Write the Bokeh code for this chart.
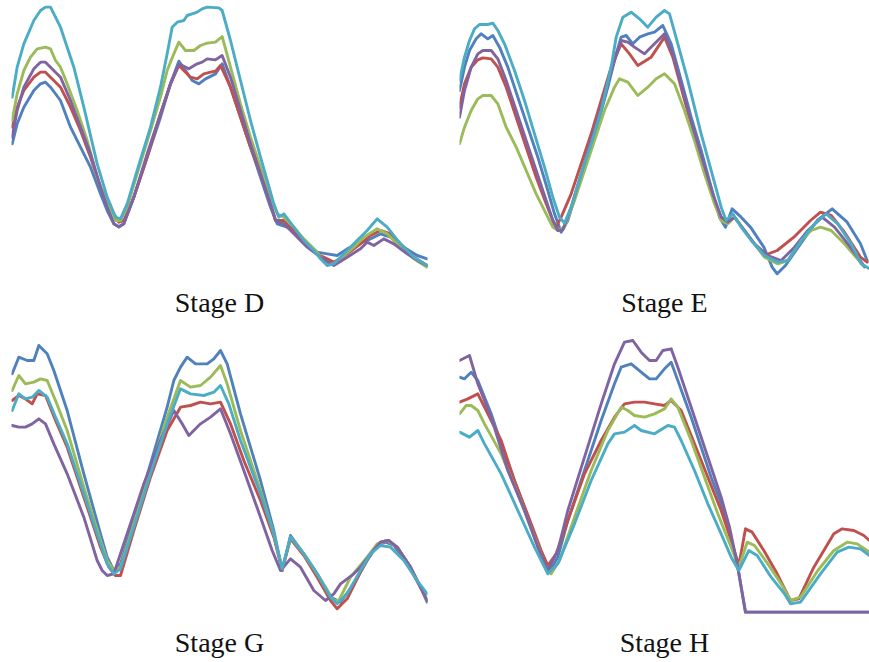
from bokeh.plotting import figure
from bokeh.layouts import column, row
from bokeh.models import Range1d
from bokeh.embed import file_html
from bokeh.resources import INLINE

# ---------------- data (position, value) ----------------
D_CYAN = [(3.5,61),(5,70),(7,77),(10,84),(12,87),(13.5,88),(15,88),(16.5,85),(18,82),(20,76),(22,70),(25,58),(29,41),(32,31),(34.5,25),(36,24.5),(38,29),(41,39),(45,52),(48,64),(50,74),(51.5,82),(53,83.5),(55,84),(56,85.5),(57.5,86),(59,86.5),(60.5,87.5),(62,88),(65.5,87.8),(66.5,87),(69,78),(72,66),(75,54),(78,43),(80,36),(82,29),(83.5,25),(85,26),(88,22),(91,18),(94,15),(96,12.5),(98,10.5),(100,11),(102,13),(106,17),(110,21),(113,24.5),(116,22),(120,17),(124,13),(128,10.5)]
D_GREEN = [(3.5,54),(5,62),(7,69),(9,73),(11,75.5),(13.5,76),(15,75.5),(16.5,72),(18,70),(20,65),(23,57),(26,48),(29,37),(32,29),(34.5,24),(36,24),(38,28),(41,38),(45,51),(48,61),(50,69),(52,74),(53.5,77.5),(55.5,75),(58,75),(60,76.5),(62,77.2),(64.5,77.5),(66.5,79.2),(69,70),(72,59),(75,49),(78,40),(81,31),(83,26),(85,25),(88,22),(91,18.5),(94,15.5),(98,11),(100,11),(103,13.5),(106,16),(109,19),(113,21.5),(116,20),(120,16),(124,12.5),(128,10)]
D_PURPLE = [(3.5,49),(5,57),(7,64),(10,69.5),(12,71.5),(13.5,71.5),(15,70),(18,67),(21,60),(24,52),(27,44),(30,34),(32,28),(34,23),(35.5,22),(37,23),(40,31),(44,44),(48,56),(51,65),(53.5,71),(56.5,69.5),(59,71),(60.5,71.5),(62,72.5),(64.5,72.2),(66.5,73.5),(69,67),(72,57),(75,47),(78,38),(81,29),(82.5,24),(85,23),(88,20),(92,16),(96,13),(100,10.5),(104,13),(108,15.5),(110,17.5),(112,16.5),(115,18.5),(118,17),(122,14),(126,11.5),(128,10.5)]
D_RED = [(3.5,52),(5,58),(7,63),(10,67),(12,68.5),(13.5,68.5),(15,67),(18,64),(21,58),(24,51),(27,43),(30,34),(32,30),(34,26),(35.5,23.5),(37,24),(40,31),(44,43),(48,56),(51,65),(53.5,70.5),(55,69),(57,67),(59,66.5),(61,68),(63,68.5),(64.5,68.8),(66,70.5),(69,64),(72,55),(75,46),(78,38),(81,29),(82.5,24),(85,24),(88,21),(92,17),(96,13.5),(100,11.5),(104,14),(108,17),(111,19.5),(114,21),(117,20),(120,17),(124,13),(128,10.5)]
D_BLUE = [(3.5,47),(5,53),(7,58),(10,63),(12,65),(13.5,65.5),(15,64),(18,60),(21,52),(24,46),(27,40),(30,32),(32,27),(34,23),(35.5,22.2),(37,23),(40,31),(44,43),(48,55),(51,65),(53.5,71.8),(55.5,69),(57.5,66),(59.5,65),(61.5,66.5),(64.5,68),(66.5,71),(69,64),(72,55),(75,46),(78,37),(81,28),(83,23),(86,22),(89,20),(92,17),(95,14.5),(98,14),(101,13.5),(104,15.5),(107,17),(110,18),(114,20),(117,19),(121,16),(125,13.5),(128,12.5)]

E_CYAN = [(7.5,66),(9,73),(10.5,78),(12,81.5),(13.5,82.8),(16,82.8),(17.5,83.2),(19,81),(21,77),(24,69),(27,60),(30,50),(33,40),(35.5,31),(37.5,25),(39,23.2),(41,28),(44,38),(47,47),(50,57),(53,70),(54.5,79),(56.5,85),(59,86.5),(61.5,84.5),(64,82),(66.5,85),(69,87),(70.5,86),(73,77),(76,66),(80,50),(83,39),(86,28),(87.5,24),(89.5,26),(92,22),(95,18),(99,13.5),(103,11.5),(106,12),(110,18),(114,23),(117.5,26),(121,23),(125,17),(128,11),(130.5,9.5)]
E_BLUE = [(7.5,63),(9,70),(10.5,75),(12.5,78.5),(14,80),(16,78.5),(17.5,79.5),(19.5,76),(22,70),(25,61),(28,52),(31,43),(34,33),(36,26),(38,20.5),(40,24),(43,34),(46,44),(49,53),(52,64),(54.5,74),(56,79),(57.5,79.5),(59.5,77),(61.5,79),(64,80),(66,80.5),(68.5,82.5),(71,77),(74,66),(77,55),(80,45),(83,34),(85.5,25),(87.3,22),(89.3,27.5),(92,25),(94.8,22),(98.8,16),(101.3,10),(102.8,8),(105.3,10.5),(109.8,17),(114.8,24),(119.3,27.5),(123.8,23.5),(127.8,17),(129.8,12)]
E_PURPLE = [(7.5,55),(9,63),(11,70),(13,74),(14.5,75),(17,75),(19,72.5),(21.5,66),(24.5,57),(27.5,48),(30.5,39),(33.5,30),(35.5,24),(37,21),(38.5,21.2),(41,28),(44,38),(47,48),(50,58),(53,69),(56,78),(58,77.5),(60,76),(63,74),(66,77),(69,80),(71.5,74),(74.5,63),(77.5,52),(80.5,42),(83.5,32),(86,25),(88,23.5),(90,25),(93,21),(96,17),(100,13.5),(104,12),(108,16),(112,21),(116.3,25),(120,22),(124,17),(129,10.2)]
E_RED = [(7.5,58),(9,65),(11,70),(13,72.2),(14.5,72.8),(17,72.5),(19,70),(21.5,64),(24.5,55),(27.5,46),(30.5,37),(33.5,29),(35.5,24),(36.5,22),(38,25),(41,32),(44,41),(47,50),(50,60),(53,70),(56,77),(58.5,74),(61,70.5),(65,73),(69,79),(71.5,73),(74.5,62),(77.5,51),(80.5,41),(83.5,31),(86,25),(88,23.5),(90,25),(93,21),(96,17),(98.8,13.5),(102.8,15),(107.8,19),(112.8,24),(115.8,26.5),(119,25.5),(123,20.5),(127.8,13),(129.8,11.5)]
E_GREEN = [(7.5,47),(9,52),(11,57),(13,60.5),(14.5,61.5),(17,61.5),(19,59),(21.5,52),(24.5,46),(27.5,39),(30.5,32),(33.5,26),(35.5,22),(37,21),(39,22),(42,30),(45,39),(48,48),(51,57),(54,64),(55.5,66.5),(58,65.5),(61,61.5),(64,64),(66.5,66.5),(69,68),(72,65),(75,57),(78,48),(81,38),(84,29),(86,24),(88,23),(90,25),(93,21),(96,17),(99,13),(103,11),(106,12),(110,18),(113,21),(115.8,22),(119,21),(123,17),(129,10)]

G_BLUE = [(3.5,77),(5.5,82),(8,81),(10,81),(11.5,85.5),(14,83),(16,78),(20,66),(25,47),(30,29),(32,22),(34,18),(36,20),(40,33),(45,50),(50,67),(52,75),(54,79),(56,82),(58.5,80),(62,80),(64,81.5),(66,84),(68,80),(72,65),(78,45),(82,30),(84.5,18),(87,28.5),(91,23),(95,17),(99,10),(102,8.5),(106,14),(110,21),(113,25.5),(115.5,26.5),(118,25.5),(122,20),(126,13),(128,8.5)]
G_GREEN = [(3.5,72),(5.5,76.5),(7.5,74),(10,74.5),(12,75.5),(14,75),(16.5,69),(20,60),(25,43),(30,27),(32,21),(34,18),(36,19),(40,32),(45,48),(50,64),(54,75),(57,73),(60,73.5),(63,76),(66,79.5),(68,74),(72,60),(78,42),(82,29),(84.5,18.5),(87,28),(91,23),(95,17),(100,9),(101.5,9),(105,16),(110,22),(113,26),(116,27),(119,25),(123,19),(128,9)]
G_CYAN = [(3.5,66),(5.5,71),(7.5,69.5),(9.5,70),(11.5,72),(14,70),(16.5,64),(20,56),(25,41),(30,26),(32,20),(34,17),(36,18.5),(40,31),(45,47),(50,62),(54,72.5),(57,71),(61,70.5),(64,71.5),(66,73.5),(68.5,68),(72,57),(78,41),(82,29),(84.5,18.5),(87,28),(91,23),(95,17),(99,10),(101,8),(104,11),(108,18),(111,23),(114,25.5),(117,25),(121,21),(125,15),(128,11)]
G_RED = [(3.5,69),(5.5,70.5),(7.5,69.5),(9.5,68),(11,71),(13.5,70.5),(16.5,63),(20,55),(25,40),(30,25),(32.5,19),(34.5,16.5),(36,16.5),(40,30),(45,46),(50,60),(54,67),(57,67.5),(60,68.5),(63,68),(66,68.5),(69,62),(73,51),(78,39),(82,28),(84.5,18),(87,27.5),(91,22.5),(95,16),(99,9),(101,6.5),(104,9.5),(108,17.5),(111,23),(114,26.5),(116,27),(119,25),(123,19),(128,9)]
G_PURPLE = [(3.5,61.5),(5.5,61),(7.5,61),(9.5,62),(11.5,63.5),(13.5,62),(16,56),(20,47),(25,34),(29,21),(30.5,18),(32,16.5),(34,17),(38,29),(43,44),(48,57),(52,66),(54.5,62),(56.5,58.5),(60,62),(63,64),(66,66.5),(69,59),(73,48),(78,34),(81.5,24),(84,18),(87,21.5),(90,19),(94,12),(97.5,9),(100,11),(102,14),(106,17),(108,19),(111,23),(114,26.5),(116.5,27),(119,25),(123,19),(128,9)]

H_PURPLE = [(7.5,81),(10.5,82.5),(13,74),(17,64),(22,48),(27,36),(31,25),(34,18),(37,24),(40,36),(45,52),(50,68),(54,80),(57,86.5),(59.5,87),(62,83.5),(64.5,81),(66.5,81),(68.5,84),(71,84.5),(73,79),(77,67),(80,58),(83,49),(86,40),(88.5,31),(90.8,20),(93.3,5.5),(130.5,5.5)]
H_BLUE = [(7.5,76),(9,75.5),(11,77.5),(13,75),(17,65),(22,50),(27,37),(31,26),(34.5,17.5),(37,22),(40,33),(45,48),(50,63),(54,74),(56,79),(59,80),(62,77.5),(64.5,75.5),(66.5,75.5),(69,78.5),(71,80.5),(73,75),(77,64),(80,55),(83,46),(86,38),(88.5,30),(90.8,20),(93.3,5.5),(130.5,5.5)]
H_RED = [(7.5,68.5),(10,69.5),(13,71),(15,67),(20,57),(24,45),(29,32),(32,24),(34,19.5),(36.5,23),(40,33),(45,47),(50,57),(54,64),(57,68),(60,68.5),(63,68.5),(66,68),(69,67.5),(71,69),(74,66),(78,56),(82,46),(86,36),(89,27),(91.3,19.5),(93.3,30.5),(95.3,29.5),(98.8,24),(102.8,17),(106.8,9),(109.3,9.5),(113.8,19),(119.8,29),(122.3,30.5),(125.8,30),(128.8,28.5),(130.5,27)]
H_GREEN = [(7.5,65),(9.5,67.5),(11,67.5),(13,66),(15,62),(20,53),(25,41),(30,28),(33,20),(35,17),(37.5,21),(42,34),(47,48),(52,60),(56,67),(58,66),(60,64.5),(63,64),(66,65),(69,66.5),(71,69.5),(73,67),(77,57),(81,46),(85,35),(89,25),(91.3,19),(93.8,26.5),(96,25.5),(100,20),(104,14),(106.8,9),(109.8,10),(115,18),(119.8,24),(123.8,26.5),(126.8,26),(130.5,23.5)]
H_CYAN = [(7.5,59.5),(10.5,58),(13,60),(15,56),(20,47),(25,36),(30,25),(34,17),(37,20),(42,32),(47,45),(52,56),(54,59),(57,59.5),(60,61.5),(62,60),(66,59),(70,61.5),(72,61),(74,57),(78,48),(82,38),(86,29),(89,22),(91.3,18),(94.3,24),(96.8,22.5),(101,16),(105,11),(106.8,8),(109.8,8.5),(115.8,17),(120.8,23.5),(124.3,25),(127.8,24.5),(130.5,22.5)]

STAGES = ["Stage D", "Stage E", "Stage G", "Stage H"]
COLORS = {"blue": "#4F81BD", "red": "#C0504D", "green": "#9BBB59", "purple": "#8064A2", "cyan": "#4BACC6"}

PANELS = [
    [("blue", D_BLUE), ("red", D_RED), ("green", D_GREEN), ("purple", D_PURPLE), ("cyan", D_CYAN)],
    [("blue", E_BLUE), ("red", E_RED), ("green", E_GREEN), ("purple", E_PURPLE), ("cyan", E_CYAN)],
    [("blue", G_BLUE), ("red", G_RED), ("green", G_GREEN), ("purple", G_PURPLE), ("cyan", G_CYAN)],
    [("blue", H_BLUE), ("red", H_RED), ("green", H_GREEN), ("purple", H_PURPLE), ("cyan", H_CYAN)],
]

# layout geometry (pixels)
X_RANGES = [(3.3, 128.1), (7.5, 130.5), (3.3, 128.1), (7.5, 130.5)]
Y_RANGES = [(6.0, 90.0), (6.0, 90.0), (3.0, 90.0), (3.0, 90.0)]
SIZES = [(459, 330), (410, 330), (459, 332), (410, 332)]
BORDERS = [(11, 32, 50), (0, 0, 50), (11, 32, 42), (0, 0, 42)]  # left, right, bottom
OFFSETS = [0, 3, 0, 3]


def make_panel(i):
    w, h = SIZES[i]
    bl, br, bb = BORDERS[i]
    p = figure(width=w, height=h, output_backend="svg", toolbar_location=None,
               x_range=Range1d(*X_RANGES[i]), y_range=Range1d(*Y_RANGES[i]),
               min_border_left=bl, min_border_right=br, min_border_top=0,
               min_border_bottom=bb, title=STAGES[i], title_location="below")
    p.axis.visible = False
    p.xgrid.visible = False
    p.ygrid.visible = False
    p.outline_line_color = None
    p.background_fill_color = "white"
    p.border_fill_color = "white"
    p.title.align = "center"
    p.title.text_font = "Liberation Serif"
    p.title.text_font_size = "28px"
    p.title.text_font_style = "normal"
    p.title.text_color = "#111111"
    p.title.standoff = 9
    p.title.offset = OFFSETS[i]
    for name, pts in PANELS[i]:
        xs = [a for a, b in pts]
        ys = [b for a, b in pts]
        p.line(xs, ys, line_color=COLORS[name], line_width=2.9,
               line_join="round", line_cap="round")
    return p


panels = [make_panel(i) for i in range(4)]
layout = column(row(panels[0], panels[1]), row(panels[2], panels[3]))
open("out.html", "w").write(file_html(layout, INLINE))
